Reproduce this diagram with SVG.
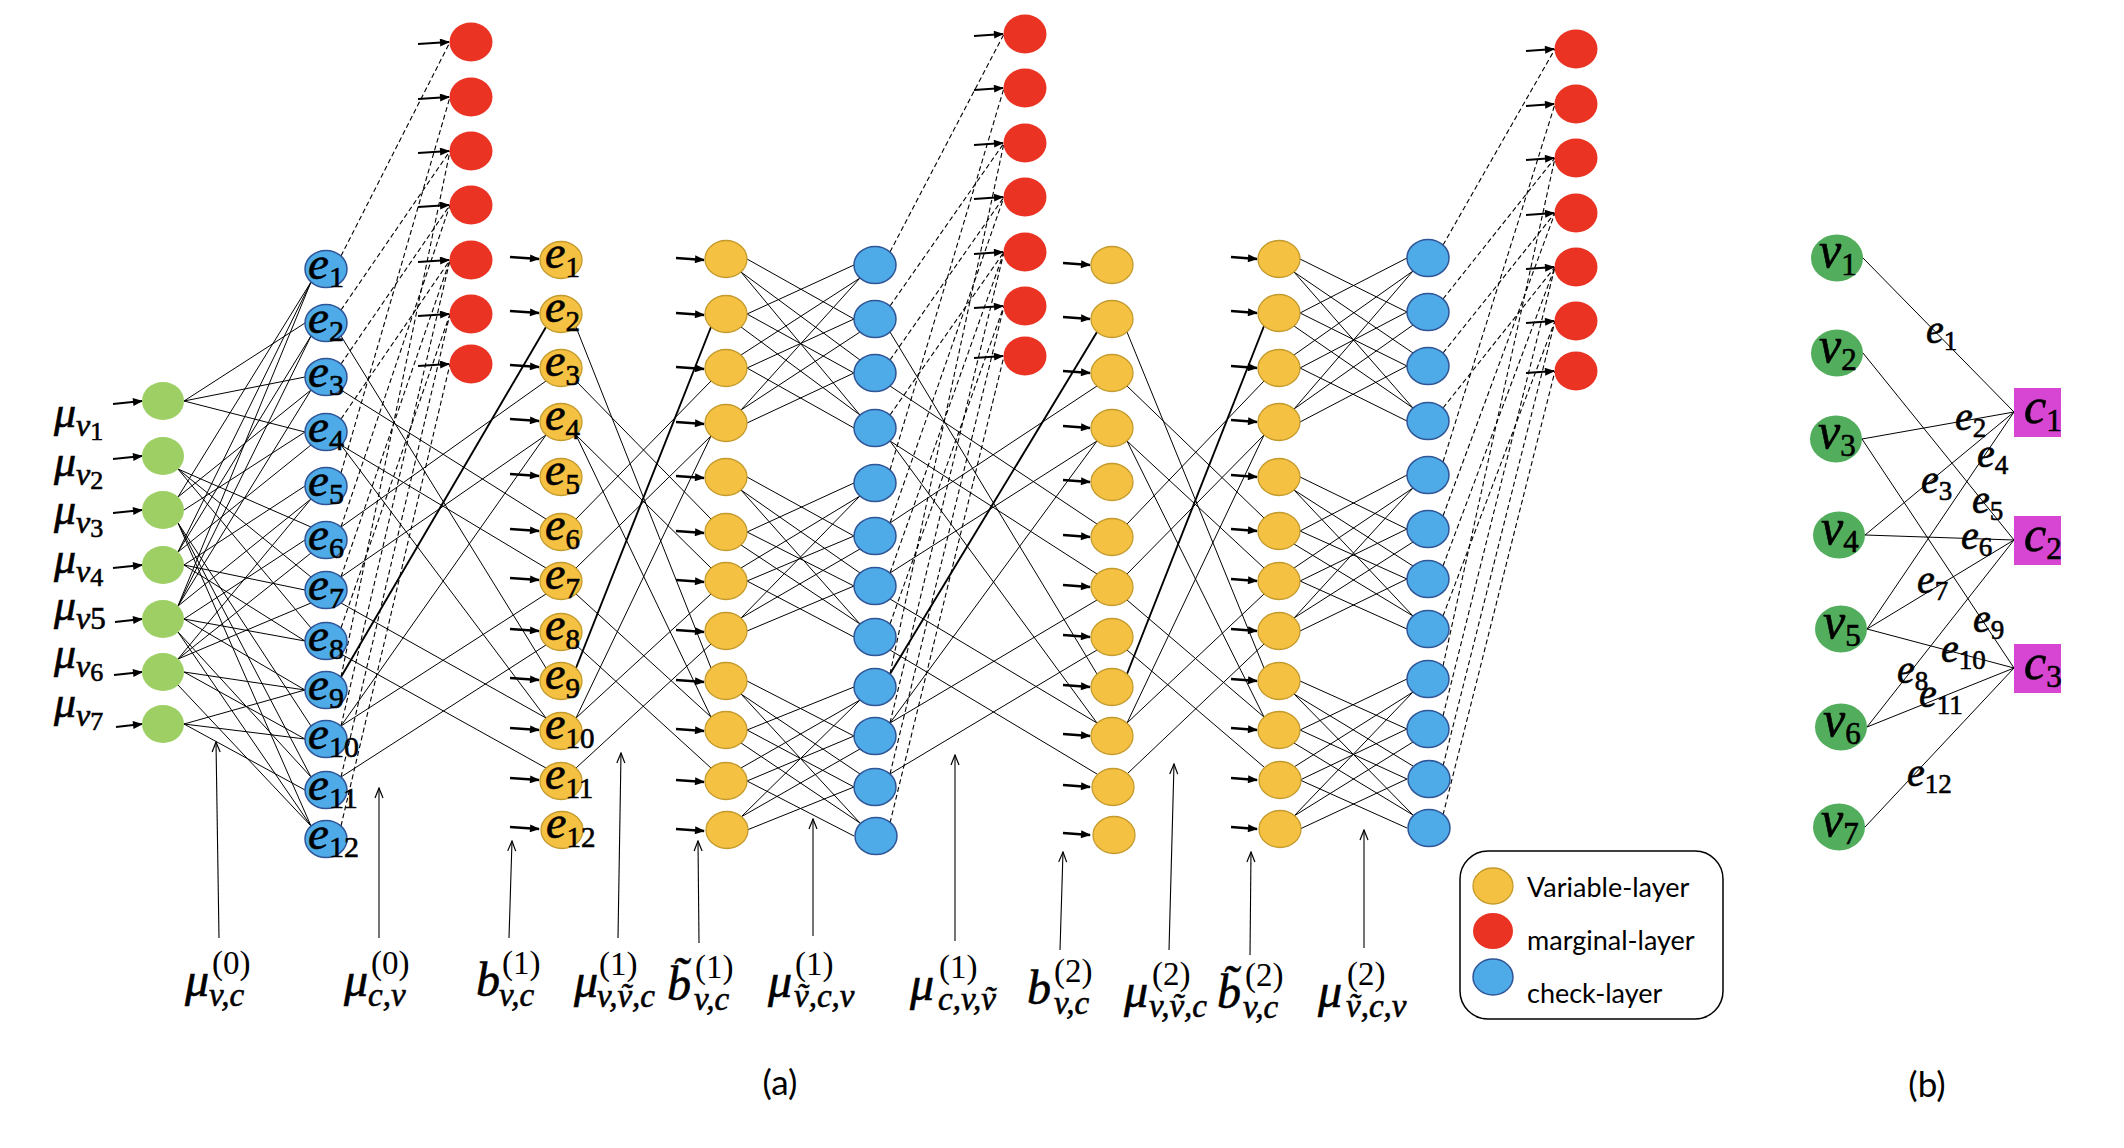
<svg xmlns="http://www.w3.org/2000/svg" width="2124" height="1148" viewBox="0 0 2124 1148">
<defs>
<style>
.ga{fill:#9DCF64}
.bl{fill:#4EABE7;stroke:#2F5597;stroke-width:1.5}
.ye{fill:#F4C143;stroke:#C49A2C;stroke-width:1.3}
.rd{fill:#EA3323}
.gb{fill:#52AD5C}
.mg{fill:#D646D3}
.sl line{stroke:#000;stroke-width:1}
.sl line.th{stroke-width:1.9}
.dl line{stroke:#000;stroke-width:1.1;stroke-dasharray:5 3}
.ar line{stroke:#000;stroke-width:2.6;marker-end:url(#ah)}
.ar line.tn{stroke-width:1.8}
.up line{stroke:#000;stroke-width:1.1;marker-end:url(#oh)}
.mi{font-family:"Liberation Serif","DejaVu Serif",serif;font-style:italic;fill:#000;stroke:#000;stroke-width:0.6}
.dg{font-family:"Liberation Serif","DejaVu Serif",serif;font-style:normal}
.sn{font-family:Lato,"Liberation Sans",sans-serif;fill:#000}
</style>
<marker id="ah" viewBox="0 0 10 8" refX="9" refY="4" markerWidth="11" markerHeight="8" markerUnits="userSpaceOnUse" orient="auto"><path d="M0,0 L10,4 L0,8 z" fill="#000"/></marker>
<marker id="oh" viewBox="0 0 12 10" refX="11" refY="5" markerWidth="12" markerHeight="10" markerUnits="userSpaceOnUse" orient="auto"><path d="M1,1 L11,5 L1,9" fill="none" stroke="#000" stroke-width="1.2"/></marker>
</defs>

<g id="connectors">
<g class="sl" id="layer-in-check1">
<line x1="178" y1="497" x2="311" y2="282"/>
<line x1="178" y1="552" x2="311" y2="282"/>
<line x1="178" y1="606" x2="311" y2="282"/>
<line x1="184" y1="401" x2="305" y2="323"/>
<line x1="178" y1="552" x2="311" y2="336"/>
<line x1="178" y1="606" x2="311" y2="336"/>
<line x1="184" y1="401" x2="305" y2="377"/>
<line x1="178" y1="497" x2="311" y2="390"/>
<line x1="178" y1="606" x2="311" y2="390"/>
<line x1="184" y1="401" x2="305" y2="432"/>
<line x1="184" y1="510" x2="305" y2="432"/>
<line x1="178" y1="552" x2="311" y2="445"/>
<line x1="184" y1="565" x2="305" y2="486"/>
<line x1="178" y1="606" x2="311" y2="499"/>
<line x1="178" y1="659" x2="311" y2="499"/>
<line x1="178" y1="469" x2="311" y2="527"/>
<line x1="184" y1="619" x2="305" y2="540"/>
<line x1="178" y1="659" x2="311" y2="553"/>
<line x1="178" y1="469" x2="311" y2="577"/>
<line x1="184" y1="565" x2="305" y2="590"/>
<line x1="178" y1="659" x2="311" y2="603"/>
<line x1="178" y1="469" x2="311" y2="628"/>
<line x1="184" y1="565" x2="305" y2="641"/>
<line x1="184" y1="619" x2="305" y2="641"/>
<line x1="184" y1="619" x2="305" y2="690"/>
<line x1="184" y1="672" x2="305" y2="690"/>
<line x1="184" y1="724" x2="305" y2="690"/>
<line x1="178" y1="523" x2="311" y2="726"/>
<line x1="184" y1="672" x2="305" y2="739"/>
<line x1="184" y1="724" x2="305" y2="739"/>
<line x1="178" y1="523" x2="311" y2="777"/>
<line x1="178" y1="632" x2="311" y2="777"/>
<line x1="184" y1="724" x2="305" y2="790"/>
<line x1="178" y1="523" x2="311" y2="826"/>
<line x1="178" y1="632" x2="311" y2="826"/>
<line x1="178" y1="685" x2="311" y2="826"/>
</g>
<g class="dl" id="layer-marg1">
<line x1="341" y1="256" x2="450" y2="42"/>
<line x1="341" y1="473" x2="450" y2="97"/>
<line x1="341" y1="310" x2="450" y2="151"/>
<line x1="341" y1="677" x2="450" y2="151"/>
<line x1="341" y1="364" x2="450" y2="205"/>
<line x1="341" y1="527" x2="450" y2="205"/>
<line x1="341" y1="419" x2="450" y2="260"/>
<line x1="341" y1="577" x2="450" y2="260"/>
<line x1="341" y1="726" x2="450" y2="260"/>
<line x1="341" y1="628" x2="450" y2="314"/>
<line x1="341" y1="777" x2="450" y2="314"/>
<line x1="341" y1="826" x2="450" y2="364"/>
</g>
<g class="sl" id="layer-check1-var1">
<line x1="341" y1="336" x2="546" y2="668"/>
<line class="th" x1="341" y1="677" x2="546" y2="327"/>
<line x1="341" y1="390" x2="546" y2="519"/>
<line x1="341" y1="527" x2="546" y2="381"/>
<line x1="341" y1="445" x2="546" y2="568"/>
<line x1="341" y1="445" x2="546" y2="718"/>
<line x1="341" y1="577" x2="546" y2="435"/>
<line x1="341" y1="603" x2="546" y2="718"/>
<line x1="341" y1="726" x2="546" y2="435"/>
<line x1="341" y1="726" x2="546" y2="594"/>
<line x1="341" y1="654" x2="546" y2="768"/>
<line x1="341" y1="777" x2="546" y2="645"/>
</g>
<g class="sl" id="layer-var1-vart1">
<line x1="576" y1="327" x2="711" y2="668"/>
<line class="th" x1="576" y1="668" x2="711" y2="327"/>
<line x1="576" y1="381" x2="711" y2="519"/>
<line x1="576" y1="519" x2="711" y2="381"/>
<line x1="576" y1="435" x2="711" y2="568"/>
<line x1="576" y1="435" x2="711" y2="717"/>
<line x1="576" y1="568" x2="711" y2="436"/>
<line x1="576" y1="594" x2="711" y2="717"/>
<line x1="576" y1="718" x2="711" y2="436"/>
<line x1="576" y1="718" x2="711" y2="594"/>
<line x1="576" y1="645" x2="711" y2="768"/>
<line x1="576" y1="768" x2="711" y2="644"/>
</g>
<g class="sl" id="layer-vart1-check2">
<line x1="747" y1="259" x2="854" y2="319"/>
<line x1="741" y1="272" x2="860" y2="360"/>
<line x1="741" y1="272" x2="860" y2="415"/>
<line x1="747" y1="314" x2="854" y2="265"/>
<line x1="747" y1="314" x2="854" y2="373"/>
<line x1="741" y1="327" x2="860" y2="415"/>
<line x1="741" y1="355" x2="860" y2="278"/>
<line x1="747" y1="368" x2="854" y2="319"/>
<line x1="747" y1="368" x2="854" y2="428"/>
<line x1="741" y1="410" x2="860" y2="278"/>
<line x1="741" y1="410" x2="860" y2="332"/>
<line x1="747" y1="423" x2="854" y2="373"/>
<line x1="747" y1="477" x2="854" y2="536"/>
<line x1="741" y1="490" x2="860" y2="573"/>
<line x1="741" y1="490" x2="860" y2="624"/>
<line x1="747" y1="532" x2="854" y2="483"/>
<line x1="747" y1="532" x2="854" y2="586"/>
<line x1="741" y1="545" x2="860" y2="624"/>
<line x1="741" y1="568" x2="860" y2="496"/>
<line x1="747" y1="581" x2="854" y2="536"/>
<line x1="747" y1="581" x2="854" y2="637"/>
<line x1="741" y1="618" x2="860" y2="496"/>
<line x1="741" y1="618" x2="860" y2="549"/>
<line x1="747" y1="631" x2="854" y2="586"/>
<line x1="747" y1="681" x2="854" y2="736"/>
<line x1="741" y1="694" x2="860" y2="774"/>
<line x1="741" y1="694" x2="860" y2="823"/>
<line x1="747" y1="730" x2="854" y2="687"/>
<line x1="747" y1="730" x2="854" y2="787"/>
<line x1="741" y1="743" x2="860" y2="823"/>
<line x1="741" y1="768" x2="860" y2="700"/>
<line x1="747" y1="781" x2="854" y2="736"/>
<line x1="747" y1="781" x2="854" y2="836"/>
<line x1="741" y1="817" x2="860" y2="700"/>
<line x1="741" y1="817" x2="860" y2="749"/>
<line x1="747" y1="830" x2="854" y2="787"/>
</g>
<g class="dl" id="layer-marg2">
<line x1="890" y1="252" x2="1004" y2="34"/>
<line x1="890" y1="470" x2="1004" y2="88"/>
<line x1="890" y1="306" x2="1004" y2="143"/>
<line x1="890" y1="674" x2="1004" y2="143"/>
<line x1="890" y1="360" x2="1004" y2="197"/>
<line x1="890" y1="523" x2="1004" y2="197"/>
<line x1="890" y1="415" x2="1004" y2="252"/>
<line x1="890" y1="573" x2="1004" y2="252"/>
<line x1="890" y1="723" x2="1004" y2="252"/>
<line x1="890" y1="624" x2="1004" y2="306"/>
<line x1="890" y1="774" x2="1004" y2="306"/>
<line x1="890" y1="823" x2="1004" y2="356"/>
</g>
<g class="sl" id="layer-check2-var2">
<line x1="890" y1="332" x2="1097" y2="674"/>
<line class="th" x1="890" y1="674" x2="1097" y2="332"/>
<line x1="890" y1="386" x2="1097" y2="524"/>
<line x1="890" y1="523" x2="1097" y2="386"/>
<line x1="890" y1="441" x2="1097" y2="574"/>
<line x1="890" y1="441" x2="1097" y2="723"/>
<line x1="890" y1="573" x2="1097" y2="441"/>
<line x1="890" y1="599" x2="1097" y2="723"/>
<line x1="890" y1="723" x2="1097" y2="441"/>
<line x1="890" y1="723" x2="1097" y2="600"/>
<line x1="890" y1="650" x2="1097" y2="774"/>
<line x1="890" y1="774" x2="1097" y2="650"/>
</g>
<g class="sl" id="layer-var2-vart2">
<line x1="1127" y1="332" x2="1264" y2="668"/>
<line class="th" x1="1127" y1="674" x2="1264" y2="326"/>
<line x1="1127" y1="386" x2="1264" y2="518"/>
<line x1="1127" y1="524" x2="1264" y2="381"/>
<line x1="1127" y1="441" x2="1264" y2="568"/>
<line x1="1127" y1="441" x2="1264" y2="717"/>
<line x1="1127" y1="574" x2="1264" y2="435"/>
<line x1="1127" y1="600" x2="1264" y2="717"/>
<line x1="1127" y1="723" x2="1264" y2="435"/>
<line x1="1127" y1="723" x2="1264" y2="594"/>
<line x1="1127" y1="650" x2="1264" y2="767"/>
<line x1="1127" y1="774" x2="1264" y2="644"/>
</g>
<g class="sl" id="layer-vart2-check3">
<line x1="1300" y1="259" x2="1407" y2="312"/>
<line x1="1294" y1="272" x2="1413" y2="353"/>
<line x1="1294" y1="272" x2="1413" y2="408"/>
<line x1="1300" y1="313" x2="1407" y2="258"/>
<line x1="1300" y1="313" x2="1407" y2="366"/>
<line x1="1294" y1="326" x2="1413" y2="408"/>
<line x1="1294" y1="355" x2="1413" y2="271"/>
<line x1="1300" y1="368" x2="1407" y2="312"/>
<line x1="1300" y1="368" x2="1407" y2="421"/>
<line x1="1294" y1="409" x2="1413" y2="271"/>
<line x1="1294" y1="409" x2="1413" y2="325"/>
<line x1="1300" y1="422" x2="1407" y2="366"/>
<line x1="1300" y1="477" x2="1407" y2="529"/>
<line x1="1294" y1="490" x2="1413" y2="566"/>
<line x1="1294" y1="490" x2="1413" y2="616"/>
<line x1="1300" y1="531" x2="1407" y2="475"/>
<line x1="1300" y1="531" x2="1407" y2="579"/>
<line x1="1294" y1="544" x2="1413" y2="616"/>
<line x1="1294" y1="568" x2="1413" y2="488"/>
<line x1="1300" y1="581" x2="1407" y2="529"/>
<line x1="1300" y1="581" x2="1407" y2="629"/>
<line x1="1294" y1="618" x2="1413" y2="488"/>
<line x1="1294" y1="618" x2="1413" y2="542"/>
<line x1="1300" y1="631" x2="1407" y2="579"/>
<line x1="1300" y1="681" x2="1407" y2="729"/>
<line x1="1294" y1="694" x2="1413" y2="766"/>
<line x1="1294" y1="694" x2="1413" y2="815"/>
<line x1="1300" y1="730" x2="1407" y2="679"/>
<line x1="1300" y1="730" x2="1407" y2="779"/>
<line x1="1294" y1="743" x2="1413" y2="815"/>
<line x1="1294" y1="767" x2="1413" y2="692"/>
<line x1="1300" y1="780" x2="1407" y2="729"/>
<line x1="1300" y1="780" x2="1407" y2="828"/>
<line x1="1294" y1="816" x2="1413" y2="692"/>
<line x1="1294" y1="816" x2="1413" y2="742"/>
<line x1="1300" y1="829" x2="1407" y2="779"/>
</g>
<g class="dl" id="layer-marg3">
<line x1="1443" y1="245" x2="1555" y2="49"/>
<line x1="1443" y1="462" x2="1555" y2="104"/>
<line x1="1443" y1="299" x2="1555" y2="158"/>
<line x1="1443" y1="666" x2="1555" y2="158"/>
<line x1="1443" y1="353" x2="1555" y2="213"/>
<line x1="1443" y1="516" x2="1555" y2="213"/>
<line x1="1443" y1="408" x2="1555" y2="267"/>
<line x1="1443" y1="566" x2="1555" y2="267"/>
<line x1="1443" y1="716" x2="1555" y2="267"/>
<line x1="1443" y1="616" x2="1555" y2="321"/>
<line x1="1443" y1="766" x2="1555" y2="321"/>
<line x1="1443" y1="815" x2="1555" y2="371"/>
</g>
<g class="ar" id="input-arrows">
<line class="tn" x1="113" y1="404" x2="142" y2="401"/>
<line class="tn" x1="113" y1="459" x2="142" y2="456"/>
<line class="tn" x1="113" y1="513" x2="142" y2="510"/>
<line class="tn" x1="113" y1="568" x2="142" y2="565"/>
<line class="tn" x1="115" y1="622" x2="142" y2="619"/>
<line class="tn" x1="114" y1="675" x2="142" y2="672"/>
<line class="tn" x1="116" y1="727" x2="142" y2="724"/>
<line class="tn" x1="418" y1="44" x2="449" y2="42"/>
<line class="tn" x1="418" y1="99" x2="449" y2="97"/>
<line class="tn" x1="418" y1="153" x2="449" y2="151"/>
<line class="tn" x1="418" y1="207" x2="449" y2="205"/>
<line class="tn" x1="418" y1="262" x2="449" y2="260"/>
<line class="tn" x1="418" y1="316" x2="449" y2="314"/>
<line class="tn" x1="418" y1="366" x2="449" y2="364"/>
<line x1="510" y1="257" x2="539" y2="259"/>
<line x1="510" y1="311" x2="539" y2="313"/>
<line x1="510" y1="365" x2="539" y2="367"/>
<line x1="510" y1="419" x2="539" y2="421"/>
<line x1="510" y1="474" x2="539" y2="476"/>
<line x1="510" y1="529" x2="539" y2="531"/>
<line x1="510" y1="578" x2="539" y2="580"/>
<line x1="510" y1="629" x2="539" y2="631"/>
<line x1="510" y1="678" x2="539" y2="680"/>
<line x1="510" y1="728" x2="539" y2="730"/>
<line x1="510" y1="778" x2="539" y2="780"/>
<line x1="510" y1="827" x2="539" y2="829"/>
<line x1="676" y1="258" x2="704" y2="260"/>
<line x1="676" y1="313" x2="704" y2="315"/>
<line x1="676" y1="367" x2="704" y2="369"/>
<line x1="676" y1="422" x2="704" y2="424"/>
<line x1="676" y1="476" x2="704" y2="478"/>
<line x1="676" y1="531" x2="704" y2="533"/>
<line x1="676" y1="580" x2="704" y2="582"/>
<line x1="676" y1="630" x2="704" y2="632"/>
<line x1="676" y1="680" x2="704" y2="682"/>
<line x1="676" y1="729" x2="704" y2="731"/>
<line x1="676" y1="780" x2="704" y2="782"/>
<line x1="676" y1="829" x2="704" y2="831"/>
<line class="tn" x1="974" y1="36" x2="1003" y2="34"/>
<line class="tn" x1="974" y1="90" x2="1003" y2="88"/>
<line class="tn" x1="974" y1="145" x2="1003" y2="143"/>
<line class="tn" x1="974" y1="199" x2="1003" y2="197"/>
<line class="tn" x1="974" y1="254" x2="1003" y2="252"/>
<line class="tn" x1="974" y1="308" x2="1003" y2="306"/>
<line class="tn" x1="974" y1="358" x2="1003" y2="356"/>
<line x1="1063" y1="263" x2="1090" y2="265"/>
<line x1="1063" y1="317" x2="1090" y2="319"/>
<line x1="1063" y1="371" x2="1090" y2="373"/>
<line x1="1063" y1="426" x2="1090" y2="428"/>
<line x1="1063" y1="480" x2="1090" y2="482"/>
<line x1="1063" y1="535" x2="1090" y2="537"/>
<line x1="1063" y1="585" x2="1090" y2="587"/>
<line x1="1063" y1="635" x2="1090" y2="637"/>
<line x1="1063" y1="685" x2="1090" y2="687"/>
<line x1="1063" y1="734" x2="1090" y2="736"/>
<line x1="1063" y1="785" x2="1090" y2="787"/>
<line x1="1063" y1="833" x2="1090" y2="835"/>
<line x1="1231" y1="257" x2="1257" y2="259"/>
<line x1="1231" y1="311" x2="1257" y2="313"/>
<line x1="1231" y1="366" x2="1257" y2="368"/>
<line x1="1231" y1="420" x2="1257" y2="422"/>
<line x1="1231" y1="475" x2="1257" y2="477"/>
<line x1="1231" y1="529" x2="1257" y2="531"/>
<line x1="1231" y1="579" x2="1257" y2="581"/>
<line x1="1231" y1="629" x2="1257" y2="631"/>
<line x1="1231" y1="679" x2="1257" y2="681"/>
<line x1="1231" y1="728" x2="1257" y2="730"/>
<line x1="1231" y1="778" x2="1257" y2="780"/>
<line x1="1231" y1="827" x2="1257" y2="829"/>
<line class="tn" x1="1526" y1="51" x2="1554" y2="49"/>
<line class="tn" x1="1526" y1="106" x2="1554" y2="104"/>
<line class="tn" x1="1526" y1="160" x2="1554" y2="158"/>
<line class="tn" x1="1526" y1="215" x2="1554" y2="213"/>
<line class="tn" x1="1526" y1="269" x2="1554" y2="267"/>
<line class="tn" x1="1526" y1="323" x2="1554" y2="321"/>
<line class="tn" x1="1526" y1="373" x2="1554" y2="371"/>
</g>
<g class="up" id="label-arrows">
<line x1="219" y1="938" x2="216" y2="742"/>
<line x1="379" y1="938" x2="379" y2="788"/>
<line x1="509" y1="938" x2="512" y2="841"/>
<line x1="618" y1="938" x2="621" y2="753"/>
<line x1="699" y1="943" x2="698" y2="841"/>
<line x1="813" y1="936" x2="813" y2="819"/>
<line x1="955" y1="941" x2="955" y2="755"/>
<line x1="1060" y1="950" x2="1063" y2="852"/>
<line x1="1169" y1="950" x2="1174" y2="764"/>
<line x1="1250" y1="955" x2="1251" y2="852"/>
<line x1="1364" y1="948" x2="1364" y2="830"/>
</g>
<g class="sl" id="tanner-edges">
<line x1="1863" y1="258" x2="2014" y2="412"/>
<line x1="1862" y1="439" x2="2014" y2="412"/>
<line x1="1865" y1="535" x2="2014" y2="412"/>
<line x1="1867" y1="629" x2="2014" y2="412"/>
<line x1="1863" y1="353" x2="2014" y2="540"/>
<line x1="1865" y1="535" x2="2014" y2="540"/>
<line x1="1867" y1="629" x2="2014" y2="540"/>
<line x1="1867" y1="727" x2="2014" y2="540"/>
<line x1="1862" y1="439" x2="2014" y2="668"/>
<line x1="1867" y1="629" x2="2014" y2="668"/>
<line x1="1867" y1="727" x2="2014" y2="668"/>
<line x1="1865" y1="827" x2="2014" y2="668"/>
</g>
</g>

<g id="input-nodes">
<g id="in-v1"><ellipse class="ga" cx="163" cy="401" rx="21" ry="19"/></g>
<g id="in-v2"><ellipse class="ga" cx="163" cy="456" rx="21" ry="19"/></g>
<g id="in-v3"><ellipse class="ga" cx="163" cy="510" rx="21" ry="19"/></g>
<g id="in-v4"><ellipse class="ga" cx="163" cy="565" rx="21" ry="19"/></g>
<g id="in-v5"><ellipse class="ga" cx="163" cy="619" rx="21" ry="19"/></g>
<g id="in-v6"><ellipse class="ga" cx="163" cy="672" rx="21" ry="19"/></g>
<g id="in-v7"><ellipse class="ga" cx="163" cy="724" rx="21" ry="19"/></g>
</g>
<g id="input-labels">
<text class="mi" x="54" y="427" font-size="44">μ<tspan font-size="32" dy="9">v</tspan><tspan class="dg" font-size="26" dy="4">1</tspan></text>
<text class="mi" x="54" y="476" font-size="44">μ<tspan font-size="32" dy="9">v</tspan><tspan class="dg" font-size="26" dy="4">2</tspan></text>
<text class="mi" x="54" y="524" font-size="44">μ<tspan font-size="32" dy="9">v</tspan><tspan class="dg" font-size="26" dy="4">3</tspan></text>
<text class="mi" x="54" y="573" font-size="44">μ<tspan font-size="32" dy="9">v</tspan><tspan class="dg" font-size="26" dy="4">4</tspan></text>
<text class="mi" x="54" y="620" font-size="44">μ<tspan font-size="32" dy="9">v</tspan><tspan class="dg" font-size="31">5</tspan></text>
<text class="mi" x="54" y="668" font-size="44">μ<tspan font-size="32" dy="9">v</tspan><tspan class="dg" font-size="26" dy="4">6</tspan></text>
<text class="mi" x="54" y="717" font-size="44">μ<tspan font-size="32" dy="9">v</tspan><tspan class="dg" font-size="26" dy="4">7</tspan></text>
</g>

<g id="check-layer-1">
<g id="c1-e1"><ellipse class="bl" cx="326" cy="269" rx="21" ry="18.5"/><text class="mi" x="308" y="279" font-size="47">e<tspan class="dg" font-size="30" dy="8">1</tspan></text></g>
<g id="c1-e2"><ellipse class="bl" cx="326" cy="323" rx="21" ry="18.5"/><text class="mi" x="308" y="333" font-size="47">e<tspan class="dg" font-size="30" dy="8">2</tspan></text></g>
<g id="c1-e3"><ellipse class="bl" cx="326" cy="377" rx="21" ry="18.5"/><text class="mi" x="308" y="387" font-size="47">e<tspan class="dg" font-size="30" dy="8">3</tspan></text></g>
<g id="c1-e4"><ellipse class="bl" cx="326" cy="432" rx="21" ry="18.5"/><text class="mi" x="308" y="442" font-size="47">e<tspan class="dg" font-size="30" dy="8">4</tspan></text></g>
<g id="c1-e5"><ellipse class="bl" cx="326" cy="486" rx="21" ry="18.5"/><text class="mi" x="308" y="496" font-size="47">e<tspan class="dg" font-size="30" dy="8">5</tspan></text></g>
<g id="c1-e6"><ellipse class="bl" cx="326" cy="540" rx="21" ry="18.5"/><text class="mi" x="308" y="550" font-size="47">e<tspan class="dg" font-size="30" dy="8">6</tspan></text></g>
<g id="c1-e7"><ellipse class="bl" cx="326" cy="590" rx="21" ry="18.5"/><text class="mi" x="308" y="600" font-size="47">e<tspan class="dg" font-size="30" dy="8">7</tspan></text></g>
<g id="c1-e8"><ellipse class="bl" cx="326" cy="641" rx="21" ry="18.5"/><text class="mi" x="308" y="651" font-size="47">e<tspan class="dg" font-size="30" dy="8">8</tspan></text></g>
<g id="c1-e9"><ellipse class="bl" cx="326" cy="690" rx="21" ry="18.5"/><text class="mi" x="308" y="700" font-size="47">e<tspan class="dg" font-size="30" dy="8">9</tspan></text></g>
<g id="c1-e10"><ellipse class="bl" cx="326" cy="739" rx="21" ry="18.5"/><text class="mi" x="308" y="749" font-size="47">e<tspan class="dg" font-size="30" dy="8">10</tspan></text></g>
<g id="c1-e11"><ellipse class="bl" cx="326" cy="790" rx="21" ry="18.5"/><text class="mi" x="308" y="800" font-size="47">e<tspan class="dg" font-size="30" dy="8">11</tspan></text></g>
<g id="c1-e12"><ellipse class="bl" cx="326" cy="839" rx="21" ry="18.5"/><text class="mi" x="308" y="849" font-size="47">e<tspan class="dg" font-size="30" dy="8">12</tspan></text></g>
</g>

<g id="marginal-layer-1">
<g id="m1-v1"><ellipse class="rd" cx="471" cy="42" rx="21.5" ry="19.5"/></g>
<g id="m1-v2"><ellipse class="rd" cx="471" cy="97" rx="21.5" ry="19.5"/></g>
<g id="m1-v3"><ellipse class="rd" cx="471" cy="151" rx="21.5" ry="19.5"/></g>
<g id="m1-v4"><ellipse class="rd" cx="471" cy="205" rx="21.5" ry="19.5"/></g>
<g id="m1-v5"><ellipse class="rd" cx="471" cy="260" rx="21.5" ry="19.5"/></g>
<g id="m1-v6"><ellipse class="rd" cx="471" cy="314" rx="21.5" ry="19.5"/></g>
<g id="m1-v7"><ellipse class="rd" cx="471" cy="364" rx="21.5" ry="19.5"/></g>
</g>

<g id="variable-layer-1">
<g id="b1-e1"><ellipse class="ye" cx="561" cy="260" rx="21" ry="18.5"/><text class="mi" x="545" y="268" font-size="46">e<tspan class="dg" font-size="29" dy="9">1</tspan></text></g>
<g id="b1-e2"><ellipse class="ye" cx="561" cy="314" rx="21" ry="18.5"/><text class="mi" x="545" y="322" font-size="46">e<tspan class="dg" font-size="29" dy="9">2</tspan></text></g>
<g id="b1-e3"><ellipse class="ye" cx="561" cy="368" rx="21" ry="18.5"/><text class="mi" x="545" y="376" font-size="46">e<tspan class="dg" font-size="29" dy="9">3</tspan></text></g>
<g id="b1-e4"><ellipse class="ye" cx="561" cy="422" rx="21" ry="18.5"/><text class="mi" x="545" y="430" font-size="46">e<tspan class="dg" font-size="29" dy="9">4</tspan></text></g>
<g id="b1-e5"><ellipse class="ye" cx="561" cy="477" rx="21" ry="18.5"/><text class="mi" x="545" y="485" font-size="46">e<tspan class="dg" font-size="29" dy="9">5</tspan></text></g>
<g id="b1-e6"><ellipse class="ye" cx="561" cy="532" rx="21" ry="18.5"/><text class="mi" x="545" y="540" font-size="46">e<tspan class="dg" font-size="29" dy="9">6</tspan></text></g>
<g id="b1-e7"><ellipse class="ye" cx="561" cy="581" rx="21" ry="18.5"/><text class="mi" x="545" y="589" font-size="46">e<tspan class="dg" font-size="29" dy="9">7</tspan></text></g>
<g id="b1-e8"><ellipse class="ye" cx="561" cy="632" rx="21" ry="18.5"/><text class="mi" x="545" y="640" font-size="46">e<tspan class="dg" font-size="29" dy="9">8</tspan></text></g>
<g id="b1-e9"><ellipse class="ye" cx="561" cy="681" rx="21" ry="18.5"/><text class="mi" x="545" y="689" font-size="46">e<tspan class="dg" font-size="29" dy="9">9</tspan></text></g>
<g id="b1-e10"><ellipse class="ye" cx="561" cy="731" rx="21" ry="18.5"/><text class="mi" x="545" y="739" font-size="46">e<tspan class="dg" font-size="29" dy="9">10</tspan></text></g>
<g id="b1-e11"><ellipse class="ye" cx="561" cy="781" rx="21" ry="18.5"/><text class="mi" x="545" y="789" font-size="46">e<tspan class="dg" font-size="29" dy="9">11</tspan></text></g>
<g id="b1-e12"><ellipse class="ye" cx="562" cy="830" rx="21" ry="18.5"/><text class="mi" x="546" y="838" font-size="46">e<tspan class="dg" font-size="29" dy="9">12</tspan></text></g>
</g>

<g id="variable-layer-1t">
<g id="bt1-e1"><ellipse class="ye" cx="726" cy="259" rx="21" ry="18.5"/></g>
<g id="bt1-e2"><ellipse class="ye" cx="726" cy="314" rx="21" ry="18.5"/></g>
<g id="bt1-e3"><ellipse class="ye" cx="726" cy="368" rx="21" ry="18.5"/></g>
<g id="bt1-e4"><ellipse class="ye" cx="726" cy="423" rx="21" ry="18.5"/></g>
<g id="bt1-e5"><ellipse class="ye" cx="726" cy="477" rx="21" ry="18.5"/></g>
<g id="bt1-e6"><ellipse class="ye" cx="726" cy="532" rx="21" ry="18.5"/></g>
<g id="bt1-e7"><ellipse class="ye" cx="726" cy="581" rx="21" ry="18.5"/></g>
<g id="bt1-e8"><ellipse class="ye" cx="726" cy="631" rx="21" ry="18.5"/></g>
<g id="bt1-e9"><ellipse class="ye" cx="726" cy="681" rx="21" ry="18.5"/></g>
<g id="bt1-e10"><ellipse class="ye" cx="726" cy="730" rx="21" ry="18.5"/></g>
<g id="bt1-e11"><ellipse class="ye" cx="726" cy="781" rx="21" ry="18.5"/></g>
<g id="bt1-e12"><ellipse class="ye" cx="727" cy="830" rx="21" ry="18.5"/></g>
</g>

<g id="check-layer-2">
<g id="c2-e1"><ellipse class="bl" cx="875" cy="265" rx="21" ry="18.5"/></g>
<g id="c2-e2"><ellipse class="bl" cx="875" cy="319" rx="21" ry="18.5"/></g>
<g id="c2-e3"><ellipse class="bl" cx="875" cy="373" rx="21" ry="18.5"/></g>
<g id="c2-e4"><ellipse class="bl" cx="875" cy="428" rx="21" ry="18.5"/></g>
<g id="c2-e5"><ellipse class="bl" cx="875" cy="483" rx="21" ry="18.5"/></g>
<g id="c2-e6"><ellipse class="bl" cx="875" cy="536" rx="21" ry="18.5"/></g>
<g id="c2-e7"><ellipse class="bl" cx="875" cy="586" rx="21" ry="18.5"/></g>
<g id="c2-e8"><ellipse class="bl" cx="875" cy="637" rx="21" ry="18.5"/></g>
<g id="c2-e9"><ellipse class="bl" cx="875" cy="687" rx="21" ry="18.5"/></g>
<g id="c2-e10"><ellipse class="bl" cx="875" cy="736" rx="21" ry="18.5"/></g>
<g id="c2-e11"><ellipse class="bl" cx="875" cy="787" rx="21" ry="18.5"/></g>
<g id="c2-e12"><ellipse class="bl" cx="876" cy="836" rx="21" ry="18.5"/></g>
</g>

<g id="marginal-layer-2">
<g id="m2-v1"><ellipse class="rd" cx="1025" cy="34" rx="21.5" ry="19.5"/></g>
<g id="m2-v2"><ellipse class="rd" cx="1025" cy="88" rx="21.5" ry="19.5"/></g>
<g id="m2-v3"><ellipse class="rd" cx="1025" cy="143" rx="21.5" ry="19.5"/></g>
<g id="m2-v4"><ellipse class="rd" cx="1025" cy="197" rx="21.5" ry="19.5"/></g>
<g id="m2-v5"><ellipse class="rd" cx="1025" cy="252" rx="21.5" ry="19.5"/></g>
<g id="m2-v6"><ellipse class="rd" cx="1025" cy="306" rx="21.5" ry="19.5"/></g>
<g id="m2-v7"><ellipse class="rd" cx="1025" cy="356" rx="21.5" ry="19.5"/></g>
</g>

<g id="variable-layer-2">
<g id="b2-e1"><ellipse class="ye" cx="1112" cy="265" rx="21" ry="18.5"/></g>
<g id="b2-e2"><ellipse class="ye" cx="1112" cy="319" rx="21" ry="18.5"/></g>
<g id="b2-e3"><ellipse class="ye" cx="1112" cy="373" rx="21" ry="18.5"/></g>
<g id="b2-e4"><ellipse class="ye" cx="1112" cy="428" rx="21" ry="18.5"/></g>
<g id="b2-e5"><ellipse class="ye" cx="1112" cy="482" rx="21" ry="18.5"/></g>
<g id="b2-e6"><ellipse class="ye" cx="1112" cy="537" rx="21" ry="18.5"/></g>
<g id="b2-e7"><ellipse class="ye" cx="1112" cy="587" rx="21" ry="18.5"/></g>
<g id="b2-e8"><ellipse class="ye" cx="1112" cy="637" rx="21" ry="18.5"/></g>
<g id="b2-e9"><ellipse class="ye" cx="1112" cy="687" rx="21" ry="18.5"/></g>
<g id="b2-e10"><ellipse class="ye" cx="1112" cy="736" rx="21" ry="18.5"/></g>
<g id="b2-e11"><ellipse class="ye" cx="1113" cy="787" rx="21" ry="18.5"/></g>
<g id="b2-e12"><ellipse class="ye" cx="1114" cy="835" rx="21" ry="18.5"/></g>
</g>

<g id="variable-layer-2t">
<g id="bt2-e1"><ellipse class="ye" cx="1279" cy="259" rx="21" ry="18.5"/></g>
<g id="bt2-e2"><ellipse class="ye" cx="1279" cy="313" rx="21" ry="18.5"/></g>
<g id="bt2-e3"><ellipse class="ye" cx="1279" cy="368" rx="21" ry="18.5"/></g>
<g id="bt2-e4"><ellipse class="ye" cx="1279" cy="422" rx="21" ry="18.5"/></g>
<g id="bt2-e5"><ellipse class="ye" cx="1279" cy="477" rx="21" ry="18.5"/></g>
<g id="bt2-e6"><ellipse class="ye" cx="1279" cy="531" rx="21" ry="18.5"/></g>
<g id="bt2-e7"><ellipse class="ye" cx="1279" cy="581" rx="21" ry="18.5"/></g>
<g id="bt2-e8"><ellipse class="ye" cx="1279" cy="631" rx="21" ry="18.5"/></g>
<g id="bt2-e9"><ellipse class="ye" cx="1279" cy="681" rx="21" ry="18.5"/></g>
<g id="bt2-e10"><ellipse class="ye" cx="1279" cy="730" rx="21" ry="18.5"/></g>
<g id="bt2-e11"><ellipse class="ye" cx="1280" cy="780" rx="21" ry="18.5"/></g>
<g id="bt2-e12"><ellipse class="ye" cx="1280" cy="829" rx="21" ry="18.5"/></g>
</g>

<g id="check-layer-3">
<g id="c3-e1"><ellipse class="bl" cx="1428" cy="258" rx="21" ry="18.5"/></g>
<g id="c3-e2"><ellipse class="bl" cx="1428" cy="312" rx="21" ry="18.5"/></g>
<g id="c3-e3"><ellipse class="bl" cx="1428" cy="366" rx="21" ry="18.5"/></g>
<g id="c3-e4"><ellipse class="bl" cx="1428" cy="421" rx="21" ry="18.5"/></g>
<g id="c3-e5"><ellipse class="bl" cx="1428" cy="475" rx="21" ry="18.5"/></g>
<g id="c3-e6"><ellipse class="bl" cx="1428" cy="529" rx="21" ry="18.5"/></g>
<g id="c3-e7"><ellipse class="bl" cx="1428" cy="579" rx="21" ry="18.5"/></g>
<g id="c3-e8"><ellipse class="bl" cx="1428" cy="629" rx="21" ry="18.5"/></g>
<g id="c3-e9"><ellipse class="bl" cx="1428" cy="679" rx="21" ry="18.5"/></g>
<g id="c3-e10"><ellipse class="bl" cx="1428" cy="729" rx="21" ry="18.5"/></g>
<g id="c3-e11"><ellipse class="bl" cx="1429" cy="779" rx="21" ry="18.5"/></g>
<g id="c3-e12"><ellipse class="bl" cx="1429" cy="828" rx="21" ry="18.5"/></g>
</g>

<g id="marginal-layer-3">
<g id="m3-v1"><ellipse class="rd" cx="1576" cy="49" rx="21.5" ry="19.5"/></g>
<g id="m3-v2"><ellipse class="rd" cx="1576" cy="104" rx="21.5" ry="19.5"/></g>
<g id="m3-v3"><ellipse class="rd" cx="1576" cy="158" rx="21.5" ry="19.5"/></g>
<g id="m3-v4"><ellipse class="rd" cx="1576" cy="213" rx="21.5" ry="19.5"/></g>
<g id="m3-v5"><ellipse class="rd" cx="1576" cy="267" rx="21.5" ry="19.5"/></g>
<g id="m3-v6"><ellipse class="rd" cx="1576" cy="321" rx="21.5" ry="19.5"/></g>
<g id="m3-v7"><ellipse class="rd" cx="1576" cy="371" rx="21.5" ry="19.5"/></g>
</g>

<g id="layer-labels">
<g id="lbl-1"><text class="mi" x="185" y="996" font-size="48">μ</text><text class="mi" x="209" y="1006" font-size="33">v,c</text><text class="dg" x="212" y="974" font-size="33">(0)</text></g>
<g id="lbl-2"><text class="mi" x="344" y="996" font-size="48">μ</text><text class="mi" x="368" y="1006" font-size="33">c,v</text><text class="dg" x="371" y="974" font-size="33">(0)</text></g>
<g id="lbl-3"><text class="mi" x="476" y="996" font-size="48">b</text><text class="mi" x="499" y="1006" font-size="33">v,c</text><text class="dg" x="502" y="974" font-size="33">(1)</text></g>
<g id="lbl-4"><text class="mi" x="574" y="997" font-size="48">μ</text><text class="mi" x="597" y="1007" font-size="33">v,ṽ,c</text><text class="dg" x="599" y="975" font-size="33">(1)</text></g>
<g id="lbl-5"><text class="mi" x="667" y="1000" font-size="48">b&#x303;</text><text class="mi" x="694" y="1010" font-size="33">v,c</text><text class="dg" x="695" y="978" font-size="33">(1)</text></g>
<g id="lbl-6"><text class="mi" x="768" y="997" font-size="48">μ</text><text class="mi" x="794" y="1007" font-size="33">ṽ,c,v</text><text class="dg" x="795" y="975" font-size="33">(1)</text></g>
<g id="lbl-7"><text class="mi" x="910" y="1000" font-size="48">μ</text><text class="mi" x="938" y="1010" font-size="33">c,v,ṽ</text><text class="dg" x="939" y="978" font-size="33">(1)</text></g>
<g id="lbl-8"><text class="mi" x="1027" y="1004" font-size="48">b</text><text class="mi" x="1054" y="1014" font-size="33">v,c</text><text class="dg" x="1054" y="982" font-size="33">(2)</text></g>
<g id="lbl-9"><text class="mi" x="1124" y="1007" font-size="48">μ</text><text class="mi" x="1149" y="1017" font-size="33">v,ṽ,c</text><text class="dg" x="1152" y="985" font-size="33">(2)</text></g>
<g id="lbl-10"><text class="mi" x="1217" y="1008" font-size="48">b&#x303;</text><text class="mi" x="1243" y="1018" font-size="33">v,c</text><text class="dg" x="1245" y="986" font-size="33">(2)</text></g>
<g id="lbl-11"><text class="mi" x="1318" y="1007" font-size="48">μ</text><text class="mi" x="1346" y="1017" font-size="33">ṽ,c,v</text><text class="dg" x="1347" y="985" font-size="33">(2)</text></g>
</g>

<g id="legend">
<rect x="1460" y="851" width="263" height="168" rx="28" fill="#fff" stroke="#000" stroke-width="1.5"/>
<ellipse class="ye" cx="1493" cy="886" rx="20" ry="18"/>
<ellipse class="rd" cx="1493" cy="931" rx="20" ry="18"/>
<ellipse class="bl" cx="1493" cy="977" rx="20" ry="18"/>
<text class="sn" x="1527" y="897" font-size="27">Variable-layer</text>
<text class="sn" x="1527" y="950" font-size="27">marginal-layer</text>
<text class="sn" x="1527" y="1003" font-size="27">check-layer</text>
</g>

<g id="tanner-graph">
<g id="t-v1"><ellipse class="gb" cx="1837" cy="258" rx="26" ry="23.5"/><text class="mi" x="1819" y="267" font-size="50">v<tspan class="dg" font-size="31" dy="8">1</tspan></text></g>
<g id="t-v2"><ellipse class="gb" cx="1837" cy="353" rx="26" ry="23.5"/><text class="mi" x="1819" y="362" font-size="50">v<tspan class="dg" font-size="31" dy="8">2</tspan></text></g>
<g id="t-v3"><ellipse class="gb" cx="1836" cy="439" rx="26" ry="23.5"/><text class="mi" x="1818" y="448" font-size="50">v<tspan class="dg" font-size="31" dy="8">3</tspan></text></g>
<g id="t-v4"><ellipse class="gb" cx="1839" cy="535" rx="26" ry="23.5"/><text class="mi" x="1821" y="544" font-size="50">v<tspan class="dg" font-size="31" dy="8">4</tspan></text></g>
<g id="t-v5"><ellipse class="gb" cx="1841" cy="629" rx="26" ry="23.5"/><text class="mi" x="1823" y="638" font-size="50">v<tspan class="dg" font-size="31" dy="8">5</tspan></text></g>
<g id="t-v6"><ellipse class="gb" cx="1841" cy="727" rx="26" ry="23.5"/><text class="mi" x="1823" y="736" font-size="50">v<tspan class="dg" font-size="31" dy="8">6</tspan></text></g>
<g id="t-v7"><ellipse class="gb" cx="1839" cy="827" rx="26" ry="23.5"/><text class="mi" x="1821" y="836" font-size="50">v<tspan class="dg" font-size="31" dy="8">7</tspan></text></g>
<g id="t-c1"><rect class="mg" x="2014" y="388" width="47" height="49"/><text class="mi" x="2024" y="423" font-size="50">c<tspan class="dg" font-size="31" dy="8">1</tspan></text></g>
<g id="t-c2"><rect class="mg" x="2014" y="516" width="47" height="49"/><text class="mi" x="2024" y="551" font-size="50">c<tspan class="dg" font-size="31" dy="8">2</tspan></text></g>
<g id="t-c3"><rect class="mg" x="2014" y="644" width="47" height="49"/><text class="mi" x="2024" y="679" font-size="50">c<tspan class="dg" font-size="31" dy="8">3</tspan></text></g>
<g id="t-edge-labels">
<text class="mi" x="1926" y="343" font-size="40">e<tspan class="dg" font-size="27" dy="7">1</tspan></text>
<text class="mi" x="1955" y="430" font-size="40">e<tspan class="dg" font-size="27" dy="7">2</tspan></text>
<text class="mi" x="1921" y="493" font-size="40">e<tspan class="dg" font-size="27" dy="7">3</tspan></text>
<text class="mi" x="1977" y="467" font-size="40">e<tspan class="dg" font-size="27" dy="7">4</tspan></text>
<text class="mi" x="1972" y="513" font-size="40">e<tspan class="dg" font-size="27" dy="7">5</tspan></text>
<text class="mi" x="1961" y="549" font-size="40">e<tspan class="dg" font-size="27" dy="7">6</tspan></text>
<text class="mi" x="1917" y="593" font-size="40">e<tspan class="dg" font-size="27" dy="7">7</tspan></text>
<text class="mi" x="1897" y="683" font-size="40">e<tspan class="dg" font-size="27" dy="7">8</tspan></text>
<text class="mi" x="1973" y="632" font-size="40">e<tspan class="dg" font-size="27" dy="7">9</tspan></text>
<text class="mi" x="1941" y="662" font-size="40">e<tspan class="dg" font-size="27" dy="7">10</tspan></text>
<text class="mi" x="1919" y="707" font-size="40">e<tspan class="dg" font-size="27" dy="7">11</tspan></text>
<text class="mi" x="1907" y="786" font-size="40">e<tspan class="dg" font-size="27" dy="7">12</tspan></text>
</g>
</g>

<text class="sn" x="780" y="1095" font-size="35" text-anchor="middle">(a)</text>
<text class="sn" x="1927" y="1097" font-size="35" text-anchor="middle">(b)</text>
</svg>
